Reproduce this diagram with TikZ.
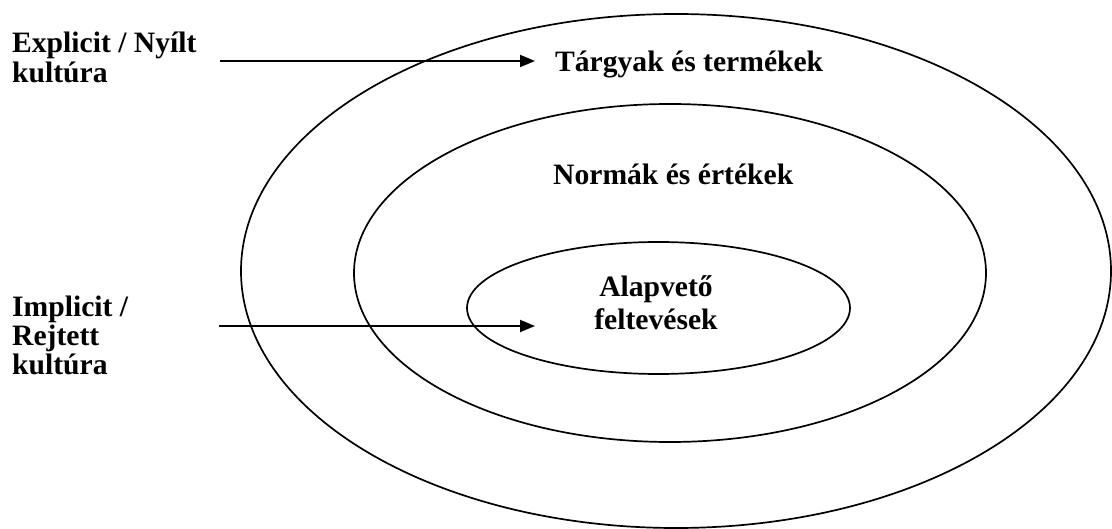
\documentclass[tikz,border=0pt]{standalone}
\usepackage{fontspec}
\setmainfont{Liberation Serif}
\usetikzlibrary{arrows.meta}
\tikzset{
  ring/.style={draw=black, line width=1.7pt},
  pointer/.style={draw=black, line width=1.9pt, -{Triangle[length=15pt,width=12pt]}},
  lbl/.style={inner sep=0pt, font=\bfseries\fontsize{29.6}{29}\selectfont}
}
\begin{document}
\begin{tikzpicture}[x=1pt,y=-1pt]
\useasboundingbox[fill=white] (0,0) rectangle (1112,529);
% rings
\draw[ring] (676,271) ellipse [x radius=435, y radius=257];
\draw[ring] (670,273) ellipse [x radius=316, y radius=169];
\draw[ring] (658.5,308) ellipse [x radius=191.5, y radius=66];
% labels
\node[lbl, anchor=base west] (explicit) at (12,53) {\begin{tabular}[t]{@{}l@{}}Explicit / Nyílt\\kultúra\end{tabular}};
\node[lbl, anchor=base west, font=\bfseries\fontsize{29.6}{28}\selectfont] (implicit) at (12,317) {\begin{tabular}[t]{@{}l@{}}Implicit /\\Rejtett\\kultúra\end{tabular}};
\node[lbl, anchor=base west] (targyak) at (555,72) {Tárgyak és termékek};
\node[lbl, anchor=base west] (normak) at (553,185) {Normák és értékek};
\node[lbl, anchor=base, font=\bfseries\fontsize{29.6}{33}\selectfont] (alap) at (656,297) {\begin{tabular}[t]{@{}c@{}}Alapvető\\feltevések\end{tabular}};
% arrows
\coordinate (a1s) at (220,61);
\coordinate (a1e) at (535,61);
\coordinate (a2s) at (219,326);
\coordinate (a2e) at (535,326);
\draw[pointer] (a1s) -- (a1e);
\draw[pointer] (a2s) -- (a2e);
\end{tikzpicture}
\end{document}
